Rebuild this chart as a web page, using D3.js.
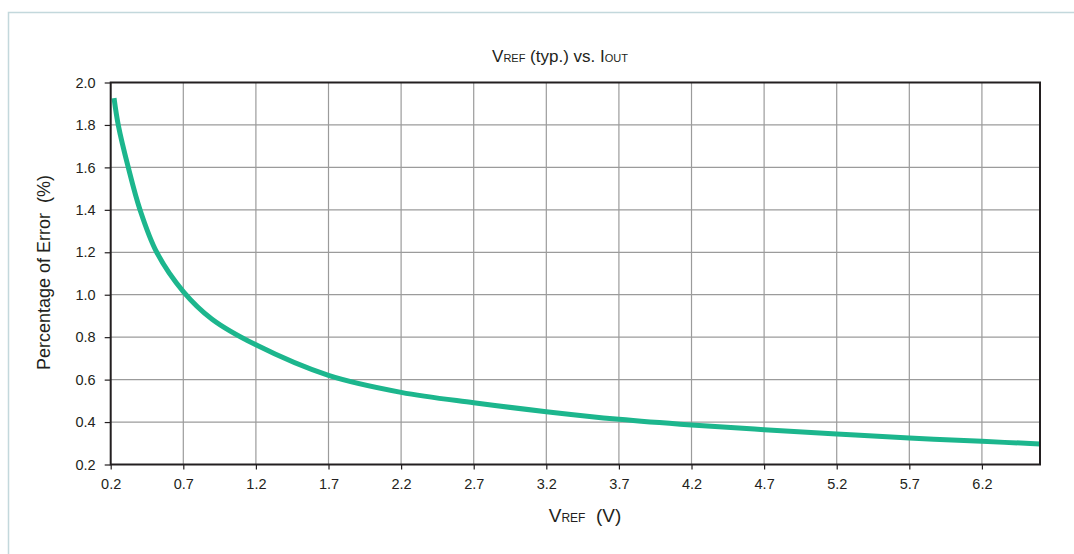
<!DOCTYPE html>
<html>
<head>
<meta charset="utf-8">
<script src="https://cdn.jsdelivr.net/npm/d3@7"></script>
<style>
  html, body { margin: 0; padding: 0; background: #fff; }
  svg { display: block; }
  text { font-family: "Liberation Sans", Arial, Helvetica, sans-serif; fill: #231f20; }
</style>
</head>
<body>
<script>
// ---- data ----
const vref = [0.223, 0.252, 0.321, 0.402, 0.517, 0.7, 0.896, 1.2, 1.7, 2.2, 2.7, 3.2, 3.7, 4.2, 4.7, 5.2, 5.7, 6.2, 6.6];
const errorPct = [1.926, 1.8, 1.6, 1.4, 1.2, 1.015, 0.886, 0.764, 0.62, 0.54, 0.491, 0.449, 0.413, 0.386, 0.364, 0.344, 0.325, 0.309, 0.297];
const xTicks = [0.2, 0.7, 1.2, 1.7, 2.2, 2.7, 3.2, 3.7, 4.2, 4.7, 5.2, 5.7, 6.2];
const yTicks = [0.2, 0.4, 0.6, 0.8, 1.0, 1.2, 1.4, 1.6, 1.8, 2.0];
const xDomain = [0.2, 6.6];
const yDomain = [0.2, 2.0];

const W = 1074, H = 554;
const plot = { left: 110.7, top: 82.5, right: 1040, bottom: 464.5 };

const svg = d3.select("body").append("svg").attr("width", W).attr("height", H);

// outer light border
svg.append("rect")
  .attr("x", 8.5).attr("y", 12.5).attr("width", W + 20).attr("height", H + 20)
  .attr("fill", "none").attr("stroke", "#c3d8dc").attr("stroke-width", 1.5);

const x = d3.scaleLinear().domain(xDomain).range([plot.left, plot.right]);
const y = d3.scaleLinear().domain(yDomain).range([plot.bottom, plot.top]);

// grid
const grid = svg.append("g").attr("stroke", "#9b9b9b").attr("stroke-width", 1.2);
grid.selectAll("line.v").data(xTicks.slice(1)).join("line")
  .attr("x1", d => x(d)).attr("x2", d => x(d))
  .attr("y1", plot.top).attr("y2", plot.bottom);
grid.selectAll("line.h").data(yTicks.slice(1, -1)).join("line")
  .attr("x1", plot.left).attr("x2", plot.right)
  .attr("y1", d => y(d)).attr("y2", d => y(d));

// axes
const xAxis = d3.axisBottom(x).tickValues(xTicks).tickFormat(d3.format(".1f")).tickSize(5).tickPadding(9.5).tickSizeOuter(0);
const yAxis = d3.axisLeft(y).tickValues(yTicks).tickFormat(d3.format(".1f")).tickSize(6).tickPadding(9).tickSizeOuter(0);

const gx = svg.append("g").attr("transform", `translate(0,${plot.bottom})`).call(xAxis);
const gy = svg.append("g").attr("transform", `translate(${plot.left},0)`).call(yAxis);
[gx, gy].forEach(g => {
  g.attr("font-size", 14.5).attr("font-family", "'Liberation Sans', Arial, sans-serif");
  g.select(".domain").remove();
  g.selectAll(".tick line").attr("stroke", "#231f20").attr("stroke-width", 1.2);
  g.selectAll(".tick text").attr("fill", "#231f20");
});

// curve
const line = d3.line().x((d, i) => x(vref[i])).y(d => y(d)).curve(d3.curveCatmullRom.alpha(0.5));
svg.append("path")
  .attr("d", line(errorPct))
  .attr("fill", "none").attr("stroke", "#1cb68d").attr("stroke-width", 5)
  .attr("stroke-linejoin", "round");

// frame
svg.append("rect")
  .attr("x", plot.left).attr("y", plot.top)
  .attr("width", plot.right - plot.left).attr("height", plot.bottom - plot.top)
  .attr("fill", "none").attr("stroke", "#231f20").attr("stroke-width", 2);

// title
const title = svg.append("text").attr("x", 560).attr("y", 62).attr("text-anchor", "middle").attr("font-size", 17);
title.append("tspan").text("V");
title.append("tspan").attr("font-size", 11).text("REF");
title.append("tspan").text(" (typ.) vs. I");
title.append("tspan").attr("font-size", 11).text("OUT");

// x label
const xl = svg.append("text").attr("x", 585).attr("y", 522).attr("text-anchor", "middle").attr("font-size", 19);
xl.append("tspan").text("V");
xl.append("tspan").attr("font-size", 12).text("REF");
xl.append("tspan").text("\u00a0\u00a0(V)");

// y label
svg.append("text")
  .attr("transform", `translate(50,${(plot.top + plot.bottom) / 2 - 1}) rotate(-90)`)
  .attr("text-anchor", "middle").attr("font-size", 18)
  .text("Percentage of Error\u00a0\u00a0(%)");
</script>
</body>
</html>
